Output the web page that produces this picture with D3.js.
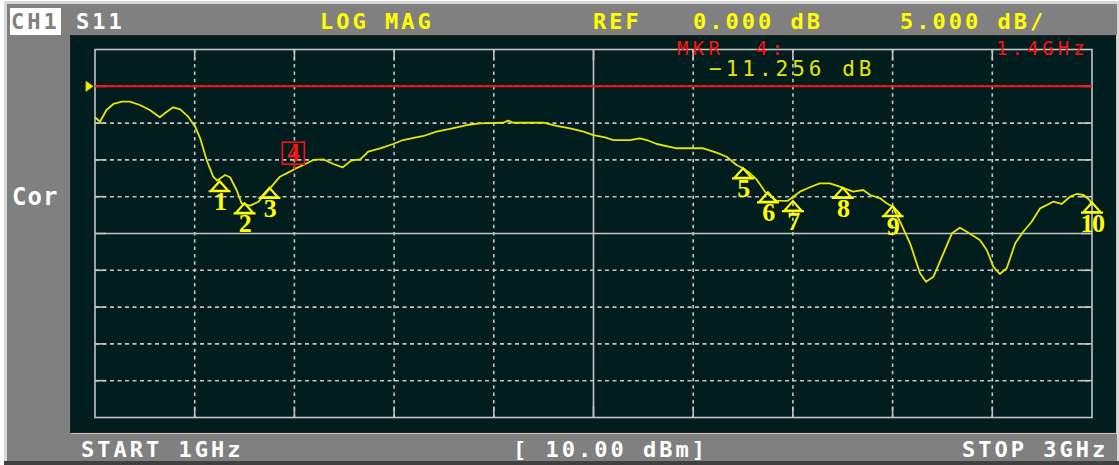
<!DOCTYPE html>
<html>
<head>
<meta charset="utf-8">
<script src="https://cdn.jsdelivr.net/npm/d3@7"></script>
<style>
    html, body { margin: 0; padding: 0; background: #ffffff; }
    svg { display: block; }
    .mono { font-family: 'DejaVu Sans Mono', monospace; white-space: pre; }
</style>
</head>
<body>
<div id="chart"></div>
<script>
// S11 trace (GHz / dB)
const freqGHz = [1.000,1.010,1.023,1.037,1.054,1.070,1.090,1.110,1.130,1.144,
    1.157,1.171,1.187,1.201,1.211,1.224,1.237,1.245,1.261,1.271,
    1.284,1.294,1.311,1.328,1.351,1.371,1.391,1.400,1.418,1.438,
    1.458,1.478,1.497,1.514,1.532,1.548,1.572,1.598,1.618,1.659,
    1.685,1.712,1.746,1.772,1.819,1.829,1.839,1.899,1.926,1.953,
    1.980,2.000,2.023,2.040,2.073,2.093,2.107,2.127,2.167,2.220,
    2.247,2.267,2.287,2.300,2.314,2.327,2.344,2.367,2.389,2.401,
    2.414,2.434,2.454,2.474,2.494,2.521,2.541,2.555,2.575,2.588,
    2.600,2.615,2.635,2.655,2.667,2.682,2.702,2.719,2.735,2.749,
    2.775,2.789,2.802,2.815,2.829,2.846,2.862,2.879,2.896,2.922,
    2.939,2.956,2.969,2.983,2.995,3.000];
const s11dB = [-4.21,-4.81,-3.22,-2.40,-2.09,-2.09,-2.54,-3.22,-4.21,-3.45,
    -2.85,-3.13,-4.13,-5.49,-7.07,-10.01,-12.28,-12.8,-12.05,-12.36,
    -14.09,-15.90,-16.22,-15.68,-13.86,-12.28,-11.60,-11.26,-10.69,-10.01,
    -9.92,-10.56,-11.01,-10.08,-9.92,-8.89,-8.42,-7.84,-7.30,-6.75,
    -6.17,-5.80,-5.26,-5.03,-4.95,-4.67,-4.95,-4.95,-5.39,-5.71,
    -6.17,-6.62,-6.93,-7.30,-7.30,-7.07,-7.30,-7.84,-8.42,-8.42,
    -9.02,-9.57,-10.69,-11.14,-11.82,-12.64,-14.32,-15.54,-15.58,-15.00,
    -14.32,-13.72,-13.18,-13.18,-13.64,-14.32,-14.09,-14.77,-15.22,-15.90,
    -16.36,-18.40,-21.33,-25.41,-26.55,-25.87,-22.69,-19.97,-19.21,-19.76,
    -20.88,-22.24,-24.51,-25.50,-24.73,-21.33,-19.76,-18.40,-16.58,-15.68,
    -15.99,-15.00,-14.63,-14.77,-15.45,-16.13];

// markers
const markerIds = [1, 2, 3, 4, 5, 6, 7, 8, 9, 10];
const markerGHz = [1.25, 1.30, 1.35, 1.40, 2.30, 2.35, 2.40, 2.50, 2.60, 3.00];
const markerdB = [-12.9, -15.9, -13.8, -11.26, -11.14, -14.4, -15.6, -13.8, -16.3, -15.8];
const activeMarker = 4;

// screen settings / annotations
const freqRange = [1, 3];        // START / STOP, GHz
const refLevel = 0;              // dB
const scaleDiv = 5;              // dB / div
const refPosDiv = 1;             // reference line position, divisions from the top
const divisions = 10;
const headerLabels = ['S11', 'LOG MAG', 'REF', '0.000 dB', '5.000 dB/'];
const footerLabels = ['START 1GHz', '[ 10.00 dBm]', 'STOP 3GHz'];
const markerReadout = ['MKR  4:', '1.4GHz', '\u221211.256 dB'];

const W = 1119, H = 465;
const grid = { left: 95, right: 1092, top: 49.5, bottom: 417.5 };

const svg = d3.select('#chart').append('svg')
    .attr('width', W)
    .attr('height', H);

// instrument frame
svg.append('rect').attr('x', 4).attr('y', 1).attr('width', 1115).attr('height', 461).attr('fill', '#d8d8d8');
svg.append('rect').attr('x', 7).attr('y', 4).attr('width', 1110).attr('height', 458).attr('fill', '#808080');
svg.append('rect').attr('x', 4).attr('y', 461).attr('width', 1115).attr('height', 4).attr('fill', '#404040');

// screen panel
svg.append('rect').attr('x', 71).attr('y', 35).attr('width', 1046).attr('height', 399).attr('fill', '#c8c8c8');
svg.append('rect').attr('x', 70).attr('y', 35).attr('width', 1046).attr('height', 398).attr('fill', '#202020');
svg.append('rect').attr('x', 71).attr('y', 36).attr('width', 1045).attr('height', 396).attr('fill', '#021d1d');

// scales
const x = d3.scaleLinear().domain(freqRange).range([grid.left, grid.right]);
const dbTop = refLevel + refPosDiv * scaleDiv;
const y = d3.scaleLinear()
    .domain([dbTop, dbTop - divisions * scaleDiv])
    .range([grid.top, grid.bottom]);

const xTicks = d3.range(0, divisions + 1).map(i => freqRange[0] + i * (freqRange[1] - freqRange[0]) / divisions);
const yTicks = d3.range(0, divisions + 1).map(i => dbTop - i * scaleDiv);

// graticule
const gridColor = '#c4c4c4';
const g = svg.append('g');
const tick = 11;

g.selectAll('.vline')
    .data(xTicks.slice(1, -1))
    .enter().append('line')
    .attr('x1', d => x(d)).attr('x2', d => x(d))
    .attr('y1', grid.top).attr('y2', grid.bottom)
    .attr('stroke', gridColor)
    .attr('stroke-width', 1.6)
    .attr('stroke-dasharray', (d, i) => i === 4 ? null : '3.5,3.8');

g.selectAll('.hline')
    .data(yTicks.slice(1, -1))
    .enter().append('line')
    .attr('x1', grid.left).attr('x2', grid.right)
    .attr('y1', d => y(d)).attr('y2', d => y(d))
    .attr('stroke', gridColor)
    .attr('stroke-width', 1.6)
    .attr('stroke-dasharray', (d, i) => i === 4 ? null : '4,3.5');

// solid ticks where the graticule meets the border
xTicks.slice(1, -1).forEach(d => {
    g.append('line').attr('x1', x(d)).attr('x2', x(d)).attr('y1', grid.top).attr('y2', grid.top + tick)
        .attr('stroke', gridColor).attr('stroke-width', 1.6);
    g.append('line').attr('x1', x(d)).attr('x2', x(d)).attr('y1', grid.bottom - tick).attr('y2', grid.bottom)
        .attr('stroke', gridColor).attr('stroke-width', 1.6);
});
yTicks.slice(1, -1).forEach(d => {
    g.append('line').attr('x1', grid.left).attr('x2', grid.left + tick).attr('y1', y(d)).attr('y2', y(d))
        .attr('stroke', gridColor).attr('stroke-width', 1.6);
    g.append('line').attr('x1', grid.right - tick).attr('x2', grid.right).attr('y1', y(d)).attr('y2', y(d))
        .attr('stroke', gridColor).attr('stroke-width', 1.6);
});

g.append('rect')
    .attr('x', grid.left).attr('y', grid.top)
    .attr('width', grid.right - grid.left).attr('height', grid.bottom - grid.top)
    .attr('fill', 'none')
    .attr('stroke', gridColor)
    .attr('stroke-width', 1.6);

// reference line + indicator
svg.append('line')
    .attr('x1', grid.left).attr('x2', grid.right)
    .attr('y1', y(refLevel)).attr('y2', y(refLevel))
    .attr('stroke', '#ff1010')
    .attr('stroke-width', 2);
svg.append('path')
    .attr('d', `M${86},${y(refLevel) - 5} L${93},${y(refLevel)} L${86},${y(refLevel) + 5} Z`)
    .attr('fill', '#f0f000')
    .attr('stroke', '#c8c800')
    .attr('stroke-width', 1);

// trace
const trace = d3.zip(freqGHz, s11dB);
svg.append('path')
    .datum(trace)
    .attr('fill', 'none')
    .attr('stroke', '#e6e600')
    .attr('stroke-width', 1.8)
    .attr('stroke-linejoin', 'round')
    .attr('d', d3.line().x(d => x(d[0])).y(d => y(d[1])));

// markers
const markers = markerIds.map((id, i) => ({ id, f: markerGHz[i], db: markerdB[i] }));
const yellow = '#ffff00';

const passive = svg.selectAll('.marker')
    .data(markers.filter(m => m.id !== activeMarker))
    .enter().append('g')
    .attr('class', 'marker')
    .attr('transform', d => `translate(${x(d.f)},${y(d.db)})`);

passive.append('path')
    .attr('d', 'M0,0 L-8.5,9.5 L8.5,9.5 Z M-11,10 L11,10')
    .attr('fill', 'none')
    .attr('stroke', yellow)
    .attr('stroke-width', 2.2);

passive.append('text')
    .attr('x', 0)
    .attr('y', 29)
    .attr('text-anchor', 'middle')
    .style('font-family', "'Liberation Serif', serif")
    .style('font-weight', 'bold')
    .style('font-size', '26px')
    .style('letter-spacing', '-1.5px')
    .attr('fill', yellow)
    .text(d => d.id);

const act = markers.find(m => m.id === activeMarker);
const ag = svg.append('g').attr('transform', `translate(${x(act.f)},${y(act.db)})`);
ag.append('rect')
    .attr('x', -12).attr('y', -27)
    .attr('width', 22).attr('height', 22)
    .attr('fill', 'none')
    .attr('stroke', '#ff1010')
    .attr('stroke-width', 1.6);
ag.append('line')
    .attr('x1', 0).attr('x2', 0).attr('y1', -5).attr('y2', 0)
    .attr('stroke', '#ff1010').attr('stroke-width', 1.6);
ag.append('text')
    .attr('x', -1).attr('y', -8)
    .attr('text-anchor', 'middle')
    .style('font-family', "'Liberation Serif', serif")
    .style('font-weight', 'bold')
    .style('font-size', '25px')
    .attr('fill', '#ff1010')
    .text(act.id);

// header bar
svg.append('rect').attr('x', 10).attr('y', 8).attr('width', 51).attr('height', 27).attr('fill', '#ffffff');

function label(txt, lx, ly, color, opts = {}) {
    return svg.append('text')
        .attr('class', 'mono')
        .attr('x', lx)
        .attr('y', ly)
        .attr('fill', color)
        .style('font-size', (opts.size || 22) + 'px')
        .style('font-weight', opts.weight || 'bold')
        .style('letter-spacing', (opts.spacing != null ? opts.spacing : 3) + 'px')
        .text(txt);
}

label('CH1', 11, 29, '#808080');
label(headerLabels[0], 76, 29, '#ffffff');
label(headerLabels[1], 320, 29, yellow);
label(headerLabels[2], 593, 29, yellow);
label(headerLabels[3], 693, 29, yellow);
label(headerLabels[4], 900, 29, yellow);

label('Cor', 12, 205, '#ffffff', { size: 24, spacing: 1 });

// marker readout
label(markerReadout[0], 677, 55, '#ff1010', { size: 19, weight: 'normal', spacing: 4.3 });
label(markerReadout[1], 996, 55, '#ff1010', { size: 19, weight: 'normal', spacing: 4 });
label(markerReadout[2], 709, 76, '#e6e600', { size: 21, weight: 'normal', spacing: 4 });

// footer
label(footerLabels[0], 81, 457, '#ffffff');
label(footerLabels[1], 513, 457, '#ffffff');
label(footerLabels[2], 962, 457, '#ffffff');
</script>
</body>
</html>
